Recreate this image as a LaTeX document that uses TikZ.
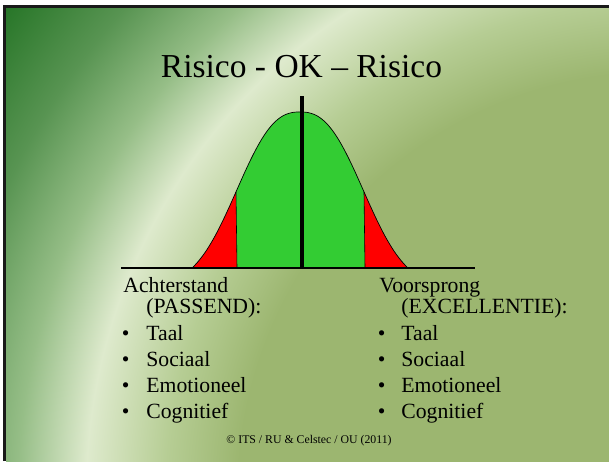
\documentclass[tikz,border=0pt]{standalone}
\usepackage{fontspec}
\setmainfont{Liberation Serif}
\usetikzlibrary{positioning}

\definecolor{slidedark}{RGB}{30,112,32}
\definecolor{slidemid}{RGB}{88,148,82}
\definecolor{slidesoft}{RGB}{150,190,135}
\definecolor{slidelight}{RGB}{222,234,205}
\definecolor{slidepale}{RGB}{182,205,148}
\definecolor{slideolive}{RGB}{156,182,112}
\definecolor{bellgreen}{RGB}{51,204,51}
\definecolor{bellred}{RGB}{255,0,0}

\pgfdeclareradialshading{slideglow}{\pgfpoint{0pt}{0pt}}{%
  color(0pt)=(slideolive); color(420pt)=(slideolive); color(492pt)=(slidepale);
  color(572pt)=(slidelight); color(640pt)=(slidesoft); color(720pt)=(slidemid);
  color(830pt)=(slidedark)}

\begin{document}
\begin{tikzpicture}[x=1pt, y=-1pt, thick,
    declare function={bell(\t)=268-156*(exp(0-pow(abs(\t)/77.76,2.5))-0.103)/0.897;},
    title/.style={anchor=base, inner sep=0pt, font=\fontsize{33.5}{40}\selectfont},
    head/.style={anchor=base west, inner sep=0pt, font=\fontsize{21.7}{26}\selectfont},
    item/.style={head},
    dot/.style={head},
    credit/.style={anchor=base, inner sep=0pt, font=\fontsize{11.8}{14}\selectfont}]
  \useasboundingbox (0,0) rectangle (609,461);
  \fill[white] (0,0) rectangle (609,461);

  % Achtergrond van de dia
  \begin{scope}
    \clip (6,8) rectangle (609,461);
    \node[inner sep=0pt, outer sep=0pt] (glow) at (658,492) {\pgfuseshading{slideglow}};
  \end{scope}
  \draw[line width=3pt, black!90] (4.5,461) -- (4.5,6.5) -- (609,6.5);

  % Normaalverdeling: rood - groen - rood
  \fill[bellred] plot[domain=-108:-64, samples=30] ({300+\x},{bell(\x)}) -- (237,268) -- cycle;
  \fill[bellgreen] (237,268) -- plot[domain=-64:64, samples=60] ({300+\x},{bell(\x)}) -- (365,268) -- cycle;
  \fill[bellred] (365,268) -- plot[domain=64:108, samples=30] ({300+\x},{bell(\x)}) -- cycle;
  \draw[line width=0.7pt] plot[domain=-108:108, samples=120] ({300+\x},{bell(\x)});
  \draw[line width=0.6pt] (236,{bell(-64)}) -- (237,268);
  \draw[line width=0.6pt] (364,{bell(64)}) -- (365,268);

  % As en gemiddelde
  \coordinate (asL) at (121,268);
  \coordinate (asR) at (475,268);
  \coordinate (midTop) at (302,96);
  \coordinate (midFoot) at (302,268);
  \draw[line width=2pt] (asL) -- (asR);
  \draw[line width=4.6pt] (midTop) -- (midFoot);

  % Teksten
  \node[title] (titel) at (301.5,77) {Risico - OK – Risico};

  \node[head] (achter) at (123,292) {Achterstand};
  \node[head] (passend) at (146,313) {(PASSEND):};
  \node[head] (voor) at (379,292) {Voorsprong};
  \node[head] (excel) at (401,313) {(EXCELLENTIE):};
  \foreach \w [count=\i] in {Taal,Sociaal,Emotioneel,Cognitief} {
    \node[dot] (ldot\i) at (121.5,{314+26*\i}) {•};
    \node[item] (litem\i) at (146,{314+26*\i}) {\w};
    \node[dot] (rdot\i) at (377.5,{314+26*\i}) {•};
    \node[item] (ritem\i) at (401,{314+26*\i}) {\w};
  }

  \node[credit] (bron) at (309,443) {© ITS / RU \& Celstec / OU (2011)};
\end{tikzpicture}
\end{document}
